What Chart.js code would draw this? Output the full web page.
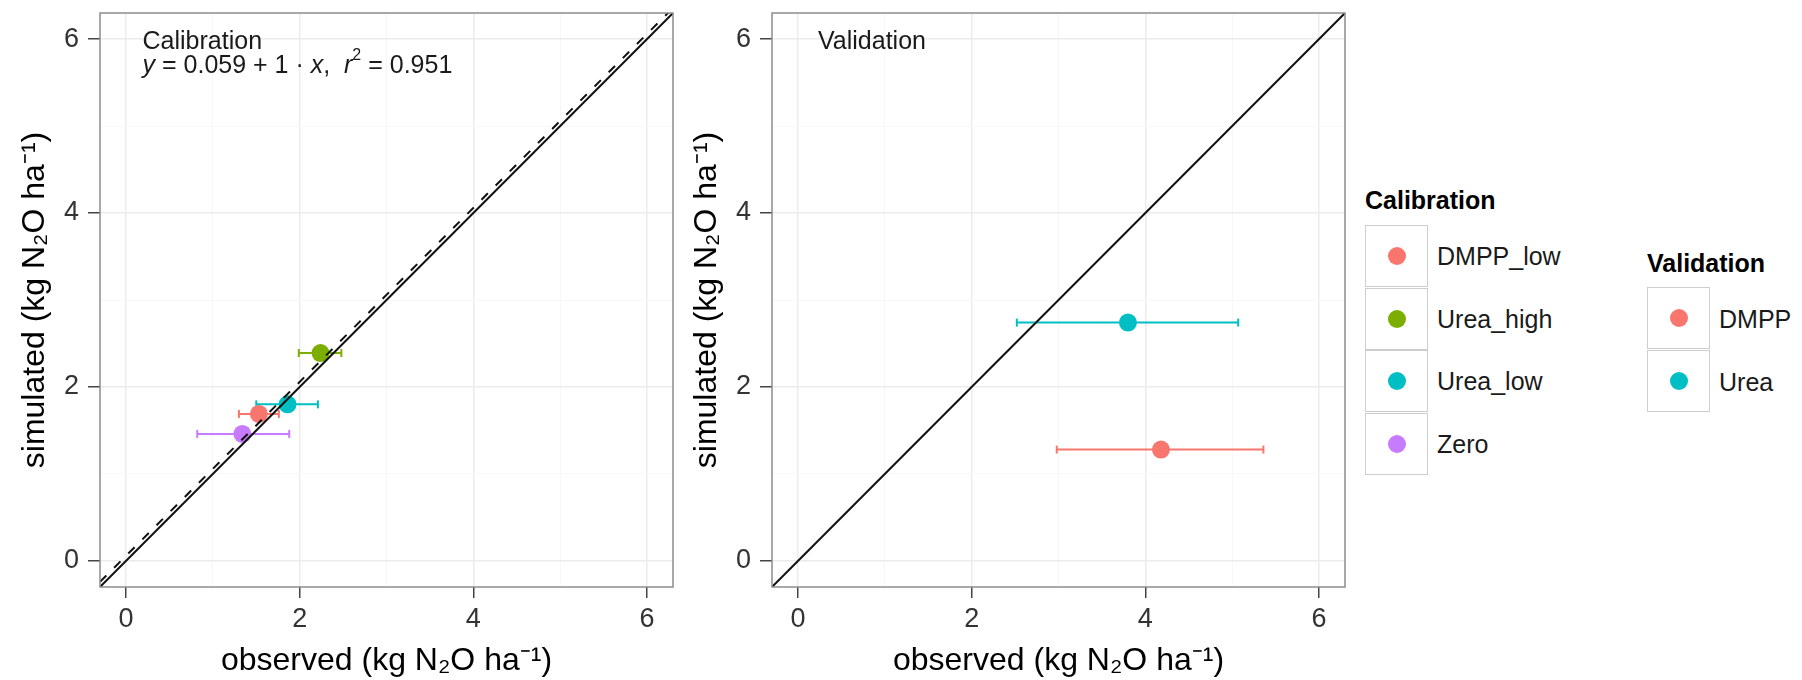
<!DOCTYPE html>
<html>
<head>
<meta charset="utf-8">
<script src="https://cdn.jsdelivr.net/npm/chart.js@4/dist/chart.umd.min.js"></script>
<style>
  body { margin: 0; background: #fff; width: 1802px; height: 680px; position: relative; overflow: hidden;
         font-family: "Liberation Sans", Arial, sans-serif; }
  canvas { position: absolute; top: 0; }
  #calChart { left: 0; }
  #valChart { left: 672px; }
  .leg-title { position: absolute; font-weight: bold; font-size: 25px; line-height: 30px; color: #000; white-space: nowrap; }
  .leg-key { position: absolute; width: 63px; height: 62px; box-sizing: border-box; border: 1.5px solid #cdcdcd; background: #fff; }
  .leg-dot { position: absolute; left: 50%; top: 50%; width: 18px; height: 18px; margin: -9px 0 0 -9px; border-radius: 50%; }
  .leg-label { position: absolute; font-size: 25px; line-height: 30px; color: #1a1a1a; white-space: nowrap; }
</style>
</head>
<body>
<canvas id="calChart" width="690" height="680"></canvas>
<canvas id="valChart" width="690" height="680"></canvas>
<div id="legends"></div>
<script>
// axis range and ticks (both axes share them)
const axisMin = -0.3;
const axisMax = 6.3;
const majorTicks = [0, 2, 4, 6];
const minorTicks = [1, 3, 5];

// calibration runs
const calGroups = ['DMPP_low', 'Urea_high', 'Urea_low', 'Zero'];
const calObserved = [1.53, 2.24, 1.86, 1.34];
const calSimulated = [1.69, 2.39, 1.80, 1.46];
const calObsLow = [1.30, 1.99, 1.50, 0.82];
const calObsHigh = [1.76, 2.48, 2.21, 1.88];
const calColors = ['#F8766D', '#7CAE00', '#00BFC4', '#C77CFF'];

// validation runs
const valGroups = ['DMPP', 'Urea'];
const valObserved = [4.18, 3.80];
const valSimulated = [1.28, 2.74];
const valObsLow = [2.98, 2.52];
const valObsHigh = [5.36, 5.07];
const valColors = ['#F8766D', '#00BFC4'];

// regression of calibration
const fitIntercept = 0.059;
const fitSlope = 1;
const fitR2 = 0.951;

const xTitle = 'observed (kg N\u2082O ha\u207B\u00B9)';
const yTitle = 'simulated (kg N\u2082O ha\u207B\u00B9)';

const FONT = '"Liberation Sans", Arial, sans-serif';
Chart.defaults.font.family = FONT;

const gridValues = majorTicks.concat(minorTicks).sort((a, b) => a - b);
const isMajor = v => majorTicks.includes(v);

function axis(isX, titleText) {
  return {
    type: 'linear',
    min: axisMin,
    max: axisMax,
    afterBuildTicks: s => { s.ticks = gridValues.map(v => ({ value: v })); },
    afterFit: s => {
      if (isX) s.height = 93; else s.width = 100;
      s.paddingLeft = s.paddingRight = s.paddingTop = s.paddingBottom = 0;
    },
    ticks: {
      autoSkip: false,
      maxRotation: 0,
      font: { size: 27 },
      color: '#333',
      padding: isX ? 5 : 9,
      callback: v => isMajor(v) ? String(v) : ''
    },
    grid: {
      color: c => isMajor(c.tick.value) ? '#ececec' : '#f7f7f7',
      lineWidth: c => isMajor(c.tick.value) ? 1.5 : 1,
      tickColor: c => isMajor(c.tick.value) ? '#444' : 'rgba(0,0,0,0)',
      tickWidth: 1.5,
      tickLength: isX ? 11 : 12
    },
    border: { display: false },
    title: {
      display: true,
      text: titleText,
      color: '#000',
      font: { size: 32 },
      padding: isX ? { top: 0, bottom: 0 } : { top: 16, bottom: 0 }
    }
  };
}

function buildDatasets(groups, obs, sim, lo, hi, colors, withFit) {
  const ds = [{
    data: [{ x: axisMin, y: axisMin }, { x: axisMax, y: axisMax }],
    showLine: true, borderColor: '#111', borderWidth: 2, pointRadius: 0, clip: 0, order: 0
  }];
  if (withFit) {
    ds.push({
      data: [{ x: axisMin, y: fitIntercept + fitSlope * axisMin }, { x: axisMax, y: fitIntercept + fitSlope * axisMax }],
      showLine: true, borderColor: '#111', borderWidth: 2, borderDash: [9, 11], pointRadius: 0, clip: 0, order: 1
    });
  }
  groups.forEach((g, i) => {
    ds.push({
      label: g + ' range',
      data: [{ x: lo[i], y: sim[i] }, { x: hi[i], y: sim[i] }],
      showLine: true, borderColor: colors[i], borderWidth: 2,
      pointStyle: 'line', rotation: 90, pointRadius: 4,
      pointBorderColor: colors[i], pointBorderWidth: 2, order: 3
    });
    ds.push({
      label: g,
      data: [{ x: obs[i], y: sim[i] }],
      backgroundColor: colors[i], borderWidth: 0, pointRadius: 9, order: 2
    });
  });
  return ds;
}

const panelBorder = {
  id: 'panelBorder',
  afterDatasetsDraw(chart) {
    const { ctx, chartArea: a } = chart;
    ctx.save();
    ctx.strokeStyle = '#8c8c8c';
    ctx.lineWidth = 1.5;
    ctx.strokeRect(a.left, a.top, a.right - a.left, a.bottom - a.top);
    ctx.restore();
  }
};

const panelText = {
  id: 'panelText',
  afterDatasetsDraw(chart, args, opts) {
    const { ctx, scales: { x, y } } = chart;
    ctx.save();
    ctx.fillStyle = '#1a1a1a';
    ctx.textBaseline = 'middle';
    ctx.textAlign = 'left';
    opts.lines.forEach(line => {
      let px = x.getPixelForValue(opts.x);
      const py = y.getPixelForValue(line.y);
      line.parts.forEach(p => {
        ctx.font = (p.italic ? 'italic ' : '') + (p.sup ? 16 : 25) + 'px ' + FONT;
        ctx.fillText(p.text, px, p.sup ? py - 10 : py);
        px += ctx.measureText(p.text).width;
      });
    });
    ctx.restore();
  }
};

function makeChart(id, datasets, textOpts) {
  return new Chart(document.getElementById(id), {
    type: 'scatter',
    data: { datasets: datasets },
    options: {
      responsive: false,
      animation: false,
      devicePixelRatio: 1,
      layout: { padding: { left: 0, right: 17, top: 13, bottom: 0 } },
      plugins: {
        legend: { display: false },
        tooltip: { enabled: false },
        panelText: textOpts
      },
      scales: { x: axis(true, xTitle), y: axis(false, yTitle) }
    },
    plugins: [panelBorder, panelText]
  });
}

makeChart('calChart',
  buildDatasets(calGroups, calObserved, calSimulated, calObsLow, calObsHigh, calColors, true),
  {
    x: 0.19,
    lines: [
      { y: 5.96, parts: [{ text: 'Calibration' }] },
      { y: 5.69, parts: [
        { text: 'y', italic: true },
        { text: ' = ' + fitIntercept + ' + ' + fitSlope + ' \u00B7 ' },
        { text: 'x', italic: true },
        { text: ',  ' },
        { text: 'r', italic: true },
        { text: '2', sup: true },
        { text: ' = ' + fitR2 }
      ] }
    ]
  });

makeChart('valChart',
  buildDatasets(valGroups, valObserved, valSimulated, valObsLow, valObsHigh, valColors, false),
  { x: 0.23, lines: [{ y: 5.96, parts: [{ text: 'Validation' }] }] });

// ggplot-style legends
function buildLegend(title, groups, colors, left, titleTop, keysTop, rowH) {
  const root = document.getElementById('legends');
  const t = document.createElement('div');
  t.className = 'leg-title';
  t.style.left = left + 'px';
  t.style.top = titleTop + 'px';
  t.textContent = title;
  root.appendChild(t);
  groups.forEach((g, i) => {
    const key = document.createElement('div');
    key.className = 'leg-key';
    key.style.left = left + 'px';
    key.style.top = (keysTop + i * rowH) + 'px';
    const dot = document.createElement('div');
    dot.className = 'leg-dot';
    dot.style.background = colors[i];
    key.appendChild(dot);
    root.appendChild(key);
    const lab = document.createElement('div');
    lab.className = 'leg-label';
    lab.style.left = (left + 72) + 'px';
    lab.style.top = (keysTop + i * rowH + rowH / 2 - 15) + 'px';
    lab.textContent = g;
    root.appendChild(lab);
  });
}

buildLegend('Calibration', calGroups, calColors, 1365, 185, 225, 62.5);
buildLegend('Validation', valGroups, valColors, 1647, 248, 287, 63);
</script>
</body>
</html>
